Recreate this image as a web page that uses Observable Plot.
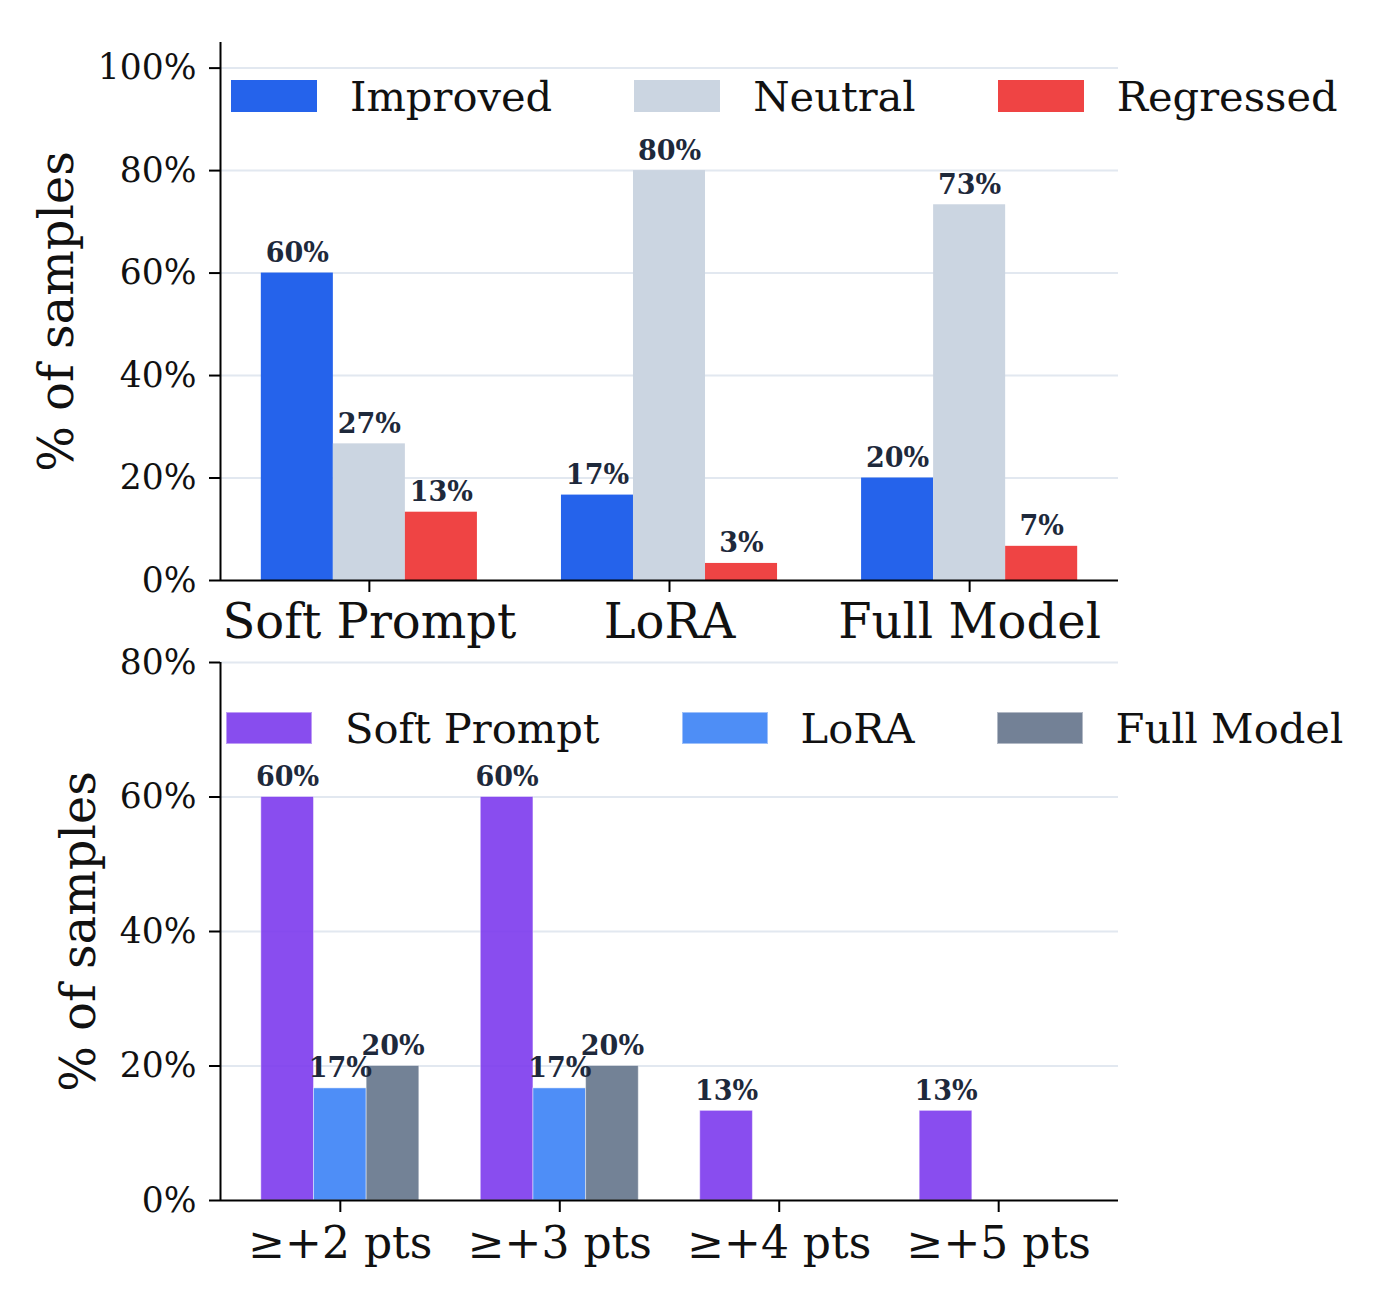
<!DOCTYPE html>
<html>
<head>
<meta charset="utf-8">
<script src="https://cdn.jsdelivr.net/npm/d3@7"></script>
<script src="https://cdn.jsdelivr.net/npm/@observablehq/plot@0.6"></script>
<style>
  html, body { margin: 0; padding: 0; background: #fff; }
  #wrap { position: relative; width: 1400px; height: 1301px; font-family: "DejaVu Serif", serif; }
  #wrap svg { display: block; font-family: "DejaVu Serif", serif; }
  g[aria-label="y-axis tick label"] { font-size: 34.5px; }
  .top g[aria-label="x-axis tick label"] { font-size: 48px; }
  .bottom g[aria-label="x-axis tick label"] { font-size: 44px; }
  g[aria-label="y-axis label"] { font-size: 48px; }
  .legend { position: absolute; display: flex; align-items: center; font-size: 41.6px; color: #111; white-space: nowrap; }
  .legend .item { display: flex; align-items: center; margin-right: 82px; }
  .legend .item:last-child { margin-right: 0; }
  .legend .sw { width: 86px; height: 32px; margin-right: 33px; box-sizing: border-box; }
  .legend .lab { line-height: 1; }
</style>
</head>
<body>
<div id="wrap"></div>
<script>
// Outcome breakdown per fine-tuning method (% of samples)
const TOP_CATEGORIES = ["Soft Prompt", "LoRA", "Full Model"];
const OUTCOMES = ["Improved", "Neutral", "Regressed"];
const IMPROVED = [60, 16.67, 20];
const NEUTRAL = [26.67, 80, 73.33];
const REGRESSED = [13.33, 3.33, 6.67];
const OUTCOME_COLORS = ["#2563eb", "#cbd5e1", "#ef4444"];
const TOP_Y_TICKS = [0, 20, 40, 60, 80, 100];

// Share of samples improving by at least N points, per method
const THRESHOLDS = ["≥+2 pts", "≥+3 pts", "≥+4 pts", "≥+5 pts"];
const METHODS = ["Soft Prompt", "LoRA", "Full Model"];
const SOFT_PROMPT = [60, 60, 13.33, 13.33];
const LORA = [16.67, 16.67, 0, 0];
const FULL_MODEL = [20, 20, 0, 0];
const METHOD_COLORS = ["#7c3aed", "#3b82f6", "#64748b"];
const BOTTOM_Y_TICKS = [0, 20, 40, 60, 80];

const BAR_W = 0.24;
const OFFSETS = [-BAR_W, 0, BAR_W];
const pct = d3.format(".0f");

function groupedRows(categories, seriesNames, seriesValues) {
  const rows = [];
  categories.forEach((cat, i) => {
    seriesNames.forEach((s, j) => {
      const c = i + OFFSETS[j];
      rows.push({cat, series: s, value: seriesValues[j][i], center: c, x1: c - BAR_W / 2, x2: c + BAR_W / 2});
    });
  });
  return rows;
}

function xDomain(n) {
  // 5% margins around the bar extent
  const lo = -1.5 * BAR_W, hi = n - 1 + 1.5 * BAR_W;
  const m = 0.05 * (hi - lo);
  return [lo - m, hi + m];
}

function panel({rows, categories, seriesNames, colors, yDomain, yTicks, height, marginTop, marginBottom, labelOffset, xTickPadding, opacity, edge}) {
  const xd = xDomain(categories.length);
  return Plot.plot({
    width: 1400,
    height,
    marginLeft: 220,
    marginRight: 282,
    marginTop,
    marginBottom,
    style: {fontFamily: "DejaVu Serif", background: "#fff", overflow: "visible"},
    x: {domain: xd},
    y: {domain: yDomain},
    color: {domain: seriesNames, range: colors},
    marks: [
      Plot.ruleY(yTicks.filter(t => t > 0), {stroke: "#e2e8f0", strokeWidth: 2}),
      Plot.rectY(rows, {x1: "x1", x2: "x2", y: "value", fill: "series", fillOpacity: opacity,
        stroke: edge ? "#ffffff" : null, strokeOpacity: 0.45, strokeWidth: 1}),
      Plot.text(rows.filter(d => d.value > 0), {x: "center", y: "value", text: d => pct(d.value) + "%",
        dy: -11, lineAnchor: "bottom", fontWeight: "bold", fontSize: 27, fill: "#1e293b"}),
      Plot.ruleY([0], {stroke: "#000", strokeWidth: 2}),
      Plot.ruleX([xd[0]], {stroke: "#000", strokeWidth: 2}),
      Plot.axisY({ticks: yTicks, tickFormat: d => d + "%", tickSize: 11, tickPadding: 13, strokeWidth: 2,
        fill: "#111", label: "% of samples", labelArrow: "none", labelAnchor: "center", labelOffset}),
      Plot.axisX({ticks: d3.range(categories.length), tickFormat: i => categories[i], tickSize: 12,
        tickPadding: xTickPadding, strokeWidth: 2, fill: "#111", label: null})
    ]
  });
}

function legend(names, colors, left, topPx, opacity, edge) {
  const div = document.createElement("div");
  div.className = "legend";
  div.style.left = left + "px";
  div.style.top = topPx + "px";
  names.forEach((n, i) => {
    const item = document.createElement("div");
    item.className = "item";
    const sw = document.createElement("div");
    sw.className = "sw";
    sw.style.background = colors[i];
    sw.style.opacity = opacity;
    if (edge) sw.style.border = "1px solid rgba(255,255,255,0.45)";
    const lab = document.createElement("span");
    lab.className = "lab";
    lab.textContent = n;
    item.append(sw, lab);
    div.append(item);
  });
  return div;
}

const wrap = document.getElementById("wrap");

const outcomeChart = panel({
  rows: groupedRows(TOP_CATEGORIES, OUTCOMES, [IMPROVED, NEUTRAL, REGRESSED]),
  categories: TOP_CATEGORIES, seriesNames: OUTCOMES, colors: OUTCOME_COLORS,
  yDomain: [0, 105], yTicks: TOP_Y_TICKS, height: 650, marginTop: 42, marginBottom: 70,
  labelOffset: 182, xTickPadding: 11, opacity: 1, edge: false
});
outcomeChart.classList.add("top");

const thresholdChart = panel({
  rows: groupedRows(THRESHOLDS, METHODS, [SOFT_PROMPT, LORA, FULL_MODEL]),
  categories: THRESHOLDS, seriesNames: METHODS, colors: METHOD_COLORS,
  yDomain: [0, 80], yTicks: BOTTOM_Y_TICKS, height: 651, marginTop: 12, marginBottom: 101,
  labelOffset: 160, xTickPadding: 14, opacity: 0.9, edge: true
});
thresholdChart.classList.add("bottom");

wrap.append(outcomeChart, thresholdChart);
wrap.append(legend(OUTCOMES, OUTCOME_COLORS, 231, 75.5, 1, false));
wrap.append(legend(METHODS, METHOD_COLORS, 226, 707.5, 0.9, true));
</script>
</body>
</html>
